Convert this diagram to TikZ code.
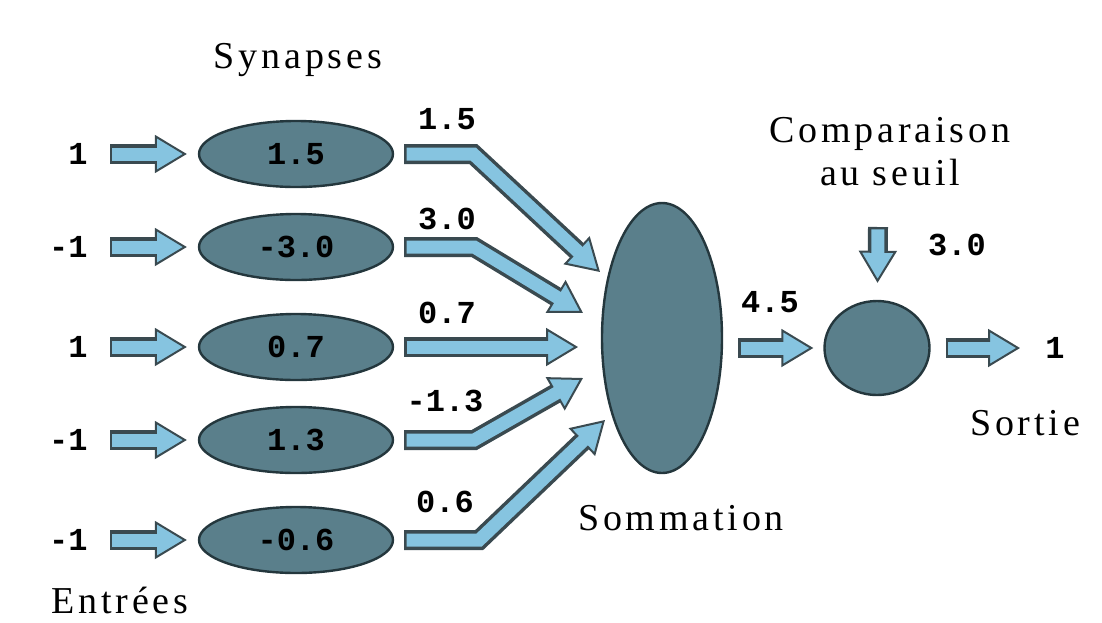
\documentclass[tikz,border=0pt]{standalone}
\usepackage{fontspec}
\setmainfont{Liberation Serif}[LetterSpace=10]
\newfontfamily\monofont{Liberation Mono}
\usetikzlibrary{arrows.meta, shapes.geometric}
\definecolor{cellfill}{HTML}{5A7F8B}
\definecolor{cellline}{HTML}{24373D}
\definecolor{flowfill}{HTML}{86C4E0}
\definecolor{flowline}{HTML}{3A4A50}

\begin{document}
\begin{tikzpicture}[
		x=0.5pt, y=-0.5pt,
		every node/.style={inner sep=0pt},
		lbl/.style={font=\fontsize{19}{21.5}\selectfont},
		val/.style={font=\monofont\bfseries\fontsize{16}{18}\selectfont},
		cell/.style={draw=cellline, line width=1.2pt, fill=cellfill, ellipse},
		synapse/.style={cell, minimum width=97pt, minimum height=33pt},
		fatarrow/.style 2 args={draw=flowline, line width=10pt, shorten <=#1, shorten >=#2,
			-{Triangle[length=16pt, width=19pt, line width'=1pt, fill=flowfill]},
			postaction={draw=flowfill, line width=6.5pt, -, shorten <=#1+1.2pt, shorten >=#2+14.5pt}}
		]
		\useasboundingbox (0,0) rectangle (1102,622);
		
		% Inputs
		\node[val, anchor=east] (in1) at (88,154) {1};
		\node[val, anchor=east] (in2) at (88,247) {-1};
		\node[val, anchor=east] (in3) at (88,347) {1};
		\node[val, anchor=east] (in4) at (88,440) {-1};
		\node[val, anchor=east] (in5) at (88,540) {-1};
		
		% Synapses
		\node[synapse, val] (syn1) at (296,154) {1.5};
		\node[synapse, val] (syn2) at (296,247) {-3.0};
		\node[synapse, val] (syn3) at (296,347) {0.7};
		\node[synapse, val] (syn4) at (296,440) {1.3};
		\node[synapse, val] (syn5) at (296,540) {-0.6};
		
		% Weighted values
		\node[val] (w1) at (447,119) {1.5};
		\node[val] (w2) at (447,219) {3.0};
		\node[val] (w3) at (447,313) {0.7};
		\node[val] (w4) at (445,401) {-1.3};
		\node[val] (w5) at (445,502) {0.6};
		
		% Summation and threshold
		\node[cell, minimum width=60pt, minimum height=135pt] (sum) at (662,338) {};
		\node[cell, minimum width=52.5pt, minimum height=47pt] (cmp) at (877,348) {};
		\node[val, anchor=west] (out) at (1045,348) {1};
		\node[val] (total) at (770,302) {4.5};
		\node[val] (seuil) at (957,245) {3.0};
		\coordinate (thr) at (878,227);
		
		% Arrow tips at the summation
		\coordinate (t1) at (600,272);
		\coordinate (t2) at (583,313);
		\coordinate (t3) at (578,347);
		\coordinate (t4) at (583,378);
		\coordinate (t5) at (605,420);
		
		% Labels
		\node[lbl] (lsyn) at (298,60) {Synapses};
		\node[lbl] (lin) at (120,600) {Entrées};
		\node[lbl] (lsum) at (681,518) {Sommation};
		\node[lbl, align=center] (lcmp) at (890,152) {Comparaison\\au seuil};
		\node[lbl] (lout) at (1025,423) {Sortie};
		
		% Inputs to synapses
		\draw[fatarrow={11pt}{5.5pt}] (in1) -- (syn1);
		\draw[fatarrow={11pt}{5.5pt}] (in2) -- (syn2);
		\draw[fatarrow={11pt}{5.5pt}] (in3) -- (syn3);
		\draw[fatarrow={11pt}{5.5pt}] (in4) -- (syn4);
		\draw[fatarrow={11pt}{5.5pt}] (in5) -- (syn5);
		
		% Synapses to summation
		\draw[fatarrow={5pt}{0pt}] (syn1.east) -- ++(79,0) -- (t1);
		\draw[fatarrow={5pt}{0pt}] (syn2.east) -- ++(80,0) -- (t2);
		\draw[fatarrow={5pt}{0pt}] (syn3) -- (t3);
		\draw[fatarrow={5pt}{0pt}] (syn4.east) -- ++(80,0) -- (t4);
		\draw[fatarrow={5pt}{0pt}] (syn5.east) -- ++(85,0) -- (t5);
		
		% Summation to output
		\draw[fatarrow={7.5pt}{5pt}] (sum.east |- cmp) -- (cmp);
		\draw[fatarrow={0pt}{8.5pt}] (thr) -- (cmp);
		\draw[fatarrow={7.5pt}{12.5pt}] (cmp) -- (out);
	\end{tikzpicture}
\end{document}
